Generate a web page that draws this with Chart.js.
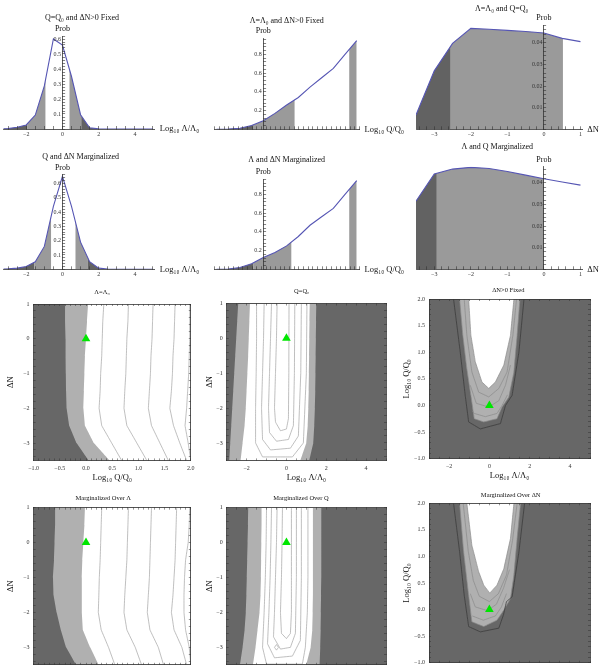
<!DOCTYPE html>
<html>
<head>
<meta charset="utf-8">
<title>Marginal probabilities</title>
<script src="https://cdn.jsdelivr.net/npm/chart.js@4.4.1/dist/chart.umd.min.js"></script>
<style>
  html, body { margin: 0; padding: 0; background: #fff; }
  body { position: relative; width: 599px; height: 668px; overflow: hidden; }
  canvas { position: absolute; }
</style>
</head>
<body>
<script>
// ---- 1-D probability curves (top two rows) ----
const lamGrid = [-3.5, -3, -2.5, -2, -1.5, -1, -0.5, 0, 0.5, 1, 1.5, 2, 2.5, 3, 3.5, 4, 4.5, 5];
const probLamFixed = [0, 0.003, 0.012, 0.027, 0.093, 0.287, 0.60, 0.56, 0.35, 0.095, 0.008, 0.001, 0, 0, 0, 0, 0, 0];
const probLamMarg = [0.001, 0.003, 0.008, 0.02, 0.053, 0.16, 0.44, 0.65, 0.44, 0.19, 0.053, 0.008, 0.002, 0.0005, 0, 0, 0, 0];
const qGrid = [-1, -0.75, -0.5, -0.25, 0, 0.25, 0.5, 0.75, 1, 1.25, 1.5, 1.75, 2];
const probQFixed = [0, 0.002, 0.011, 0.04, 0.092, 0.17, 0.26, 0.34, 0.45, 0.55, 0.65, 0.8, 0.946];
const probQMarg = [0, 0.004, 0.02, 0.06, 0.125, 0.18, 0.25, 0.35, 0.47, 0.56, 0.65, 0.8, 0.946];
const dnGrid = [-3.5, -3, -2.5, -2, -1.5, -1, -0.5, 0, 0.5, 1];
const probDnFixed = [0.0066, 0.027, 0.0397, 0.0466, 0.0462, 0.0457, 0.0452, 0.0445, 0.042, 0.0405];
const probDnMarg = [0.0315, 0.044, 0.0463, 0.0471, 0.0466, 0.0452, 0.0435, 0.0418, 0.0403, 0.0389];

// credible-interval shading under each curve
const lamFixedEdges = [-3.5, -1.93, -0.94, 0.39, 1.04, 1.8];
const lamMargEdges = [-3.5, -1.55, -0.63, 0.72, 1.4, 2.05];
const lamShades = ['dark', 'mid', null, 'mid', 'dark'];
const qFixedEdges = [-1.04, -0.22, 0.67, 1.84, 2.0];
const qMargEdges = [-1.04, -0.21, 0.6, 1.84, 2.0];
const qShades = ['dark', 'mid', null, 'mid'];
const dnFixedEdges = [-3.5, -2.55, 0.52];
const dnMargEdges = [-3.5, -2.93, 0.0];
const dnShades = ['dark', 'mid'];

// ---- 2-D contours (bottom two rows) ----
const dnRange = [-3.5, 1];
const qRange = [-1, 2];
const lamRange = [-3, 5];
const fiducial = [0, 0];
const dnLevels = [1, 0.5, 0, -0.5, -1, -1.5, -2, -2.5, -3, -3.5];

// Λ=Λ0 : Log10 Q/Q0 of each contour at the ΔN levels
const qDarkFixed = [-0.40, -0.40, -0.39, -0.39, -0.385, -0.38, -0.37, -0.32, -0.18, 0.05];
const qLightFixed = [0.04, 0.02, 0.0, -0.02, -0.03, -0.04, -0.05, -0.02, 0.15, 0.45];
const qLinesFixed = [
  [0.34, 0.32, 0.31, 0.30, 0.28, 0.27, 0.25, 0.30, 0.49, 0.68],
  [0.81, 0.80, 0.78, 0.77, 0.76, 0.74, 0.725, 0.78, 0.97, 1.16],
  [1.28, 1.27, 1.26, 1.24, 1.23, 1.21, 1.19, 1.25, 1.41, 1.57],
  [1.70, 1.69, 1.68, 1.66, 1.65, 1.63, 1.60, 1.67, 1.79, 1.92],
  [1.98, 1.98, 1.98, 1.97, 1.96, 1.94, 1.92, 1.89, 1.95, 2.0]
];
// marginalized over Λ
const qDarkMarg = [-0.59, -0.59, -0.60, -0.61, -0.63, -0.62, -0.56, -0.48, -0.38, -0.19];
const qLightMarg = [-0.02, -0.03, -0.05, -0.07, -0.08, -0.08, -0.08, -0.06, 0.08, 0.24];
const qLinesMarg = [
  [0.30, 0.29, 0.28, 0.27, 0.254, 0.245, 0.235, 0.29, 0.43, 0.55],
  [0.81, 0.80, 0.79, 0.78, 0.76, 0.74, 0.725, 0.78, 0.94, 1.06],
  [1.25, 1.24, 1.23, 1.22, 1.21, 1.19, 1.17, 1.22, 1.38, 1.48],
  [1.73, 1.72, 1.71, 1.70, 1.68, 1.66, 1.63, 1.68, 1.83, 1.92],
  [1.98, 1.97, 1.95, 1.90, 1.88, 1.87, 1.87, 1.90, 1.97, 2.0]
];

// Q=Q0 : Log10 Λ/Λ0 of the band edges at the ΔN levels
const lamDarkLeftFixed = [-2.42, -2.47, -2.52, -2.57, -2.62, -2.67, -2.72, -2.77, -2.82, -2.87];
const lamLightLeftFixed = [-1.83, -1.86, -1.89, -1.92, -1.96, -2.0, -2.04, -2.1, -2.2, -2.3];
const lamLightRightFixed = [1.17, 1.16, 1.15, 1.14, 1.13, 1.12, 1.1, 1.07, 1.0, 0.7];
const lamDarkRightFixed = [1.5, 1.49, 1.48, 1.47, 1.46, 1.45, 1.43, 1.40, 1.35, 1.15];
const lamLinesFixed = [
  [[-0.47, 1], [-0.5, 0], [-0.55, -1], [-0.6, -2], [-0.55, -2.4], [-0.3, -2.65], [0, -2.6], [0.1, -2.3], [0.12, -1], [0.13, 1]],
  [[-0.75, 1], [-0.8, 0], [-0.85, -1], [-0.9, -2], [-0.85, -2.7], [-0.5, -2.95], [0.1, -2.9], [0.35, -2.5], [0.4, -1], [0.42, 1]],
  [[-1.12, 1], [-1.15, 0], [-1.2, -1], [-1.25, -2], [-1.2, -2.9], [-0.8, -3.2], [0.2, -3.15], [0.6, -2.8], [0.72, -1], [0.75, 1]],
  [[-1.5, 1], [-1.5, 0], [-1.52, -1], [-1.55, -2], [-1.55, -3], [-1.2, -3.4], [0.3, -3.4], [0.85, -3.0], [1.0, -1], [1.03, 1]]
];
// marginalized over Q
const lamDarkLeftMarg = [-1.92, -1.93, -1.95, -1.97, -1.99, -2.01, -2.04, -2.1, -2.2, -2.33];
const lamLightLeftMarg = [-1.25, -1.25, -1.26, -1.27, -1.28, -1.3, -1.35, -1.45, -1.55, -1.68];
const lamLightRightMarg = [1.33, 1.33, 1.33, 1.33, 1.33, 1.33, 1.32, 1.3, 1.22, 1.0];
const lamDarkRightMarg = [1.75, 1.75, 1.75, 1.75, 1.75, 1.74, 1.73, 1.72, 1.70, 1.67];
const lamLinesMarg = [
  [[-0.2, 1], [-0.22, 0], [-0.25, -1], [-0.3, -2], [-0.25, -2.6], [0, -2.75], [0.2, -2.6], [0.25, -2], [0.25, -1], [0.25, 1]],
  [[-0.47, 1], [-0.5, 0], [-0.55, -1], [-0.6, -2], [-0.65, -2.7], [-0.3, -3.05], [0.2, -3.0], [0.45, -2.6], [0.5, -1], [0.5, 1]],
  [[-0.75, 1], [-0.78, 0], [-0.82, -1], [-0.88, -2], [-0.95, -2.9], [-0.6, -3.3], [0.3, -3.25], [0.7, -2.8], [0.75, -1], [0.75, 1]],
  [[-1.0, 1], [-1.02, 0], [-1.06, -1], [-1.12, -2], [-1.2, -3], [-1.0, -3.48], [0.8, -3.48], [0.95, -3.0], [1.05, -2], [1.08, -1], [1.08, 1]],
  [[-0.6, -3], [-0.5, -2.92], [-0.4, -3], [-0.5, -3.08], [-0.6, -3]]
];

// ΔN>0 fixed : (Log10 Λ/Λ0, Log10 Q/Q0) contours
const uOuterFixed = [[-1.78, 2], [-1.45, 1.01], [-1.2, 0.19], [-1.03, -0.31], [-0.45, -0.44], [0.55, -0.34], [0.8, 0.0], [1.13, 0.19], [1.47, 1.01], [1.72, 2]];
const uLightFixed = [[-1.48, 2], [-1.32, 1.32], [-1.12, 0.69], [-0.92, 0.19], [-0.75, -0.25], [-0.28, -0.31], [0.38, -0.25], [0.63, -0.03], [0.97, 0.16], [1.22, 0.63], [1.38, 1.32], [1.52, 2]];
const uWhiteFixed = [[-1.03, 2], [-0.92, 1.32], [-0.7, 0.82], [-0.37, 0.44], [-0.03, 0.32], [0.3, 0.44], [0.72, 0.76], [1.05, 1.32], [1.22, 2]];
const uLinesFixed = [
  [[-1.25, 2], [-1.12, 1.32], [-0.87, 0.63], [-0.53, 0.25], [-0.03, 0.16], [0.47, 0.32], [0.88, 0.63], [1.17, 1.32], [1.35, 2]],
  [[-0.95, 0.38], [-0.65, 0.04], [-0.03, -0.03], [0.47, 0.09], [0.8, 0.38], [1.05, 0.76]],
  [[-0.85, -0.1], [-0.75, -0.15], [-0.2, -0.21], [0.38, -0.15], [0.63, 0.0], [0.9, 0.2]]
];
// marginalized over ΔN
const uOuterMarg = [[-1.78, 2], [-1.48, 1.09], [-1.25, 0.27], [-1.03, -0.32], [-0.45, -0.42], [0.47, -0.35], [0.7, -0.1], [0.85, 0.15], [1.13, 0.24], [1.47, 1.09], [1.75, 2]];
const uLightMarg = [[-1.48, 2], [-1.28, 1.09], [-1.03, 0.27], [-0.87, -0.23], [-0.28, -0.32], [0.38, -0.2], [0.72, -0.01], [1.05, 0.21], [1.22, 0.65], [1.38, 1.34], [1.55, 2]];
const uWhiteMarg = [[-1.12, 2], [-0.87, 1.21], [-0.53, 0.71], [-0.28, 0.46], [0.02, 0.31], [0.38, 0.46], [0.72, 0.77], [1.05, 1.34], [1.22, 2]];
const uLinesMarg = [
  [[-1.3, 2], [-1.05, 1.1], [-0.8, 0.55], [-0.5, 0.25], [0.0, 0.15], [0.45, 0.3], [0.85, 0.65], [1.15, 1.3], [1.38, 2]],
  [[-0.95, 0.3], [-0.7, 0.05], [-0.1, -0.02], [0.35, 0.1], [0.7, 0.4], [1.0, 0.75]],
  [[-0.85, -0.12], [-0.3, -0.2], [0.3, -0.12], [0.6, 0.05], [0.85, 0.3]]
];

// ---- style ----
const FONT = "'Liberation Serif', 'DejaVu Serif', serif";
const INK = '#333333';
const CURVE = '#5656b4';
const SHADE = { dark: '#626262', mid: '#9a9a9a' };
const C_DARK = '#676767', C_LIGHT = '#b0b0b0', C_LINE = '#a3a3a3', C_INNER = '#8a8a8a', C_OUTER = '#3c3c3c';
const GREEN = '#00e600';

Chart.defaults.font.family = FONT;
Chart.defaults.color = INK;
Chart.defaults.animation = false;
Chart.defaults.events = [];
Chart.defaults.plugins.legend.display = false;
Chart.defaults.plugins.tooltip.enabled = false;

// fills the area under the curve, band by band
const bandFill = {
  id: 'bandFill',
  beforeDatasetsDraw(chart, args, o) {
    if (!o.edges) return;
    const ctx = chart.ctx, a = chart.chartArea, xs = chart.scales.x;
    const pts = chart.getDatasetMeta(0).data;
    const base = chart.scales.y.getPixelForValue(0);
    o.shades.forEach((shade, i) => {
      if (!shade) return;
      const left = Math.max(a.left, xs.getPixelForValue(o.edges[i]));
      const right = Math.min(a.right, xs.getPixelForValue(o.edges[i + 1]));
      if (right <= left) return;
      ctx.save();
      ctx.beginPath();
      ctx.rect(left, a.top, right - left, a.bottom - a.top);
      ctx.clip();
      ctx.beginPath();
      ctx.moveTo(pts[0].x, base);
      pts.forEach(p => ctx.lineTo(p.x, p.y));
      ctx.lineTo(pts[pts.length - 1].x, base);
      ctx.closePath();
      ctx.fillStyle = SHADE[shade];
      ctx.fill();
      ctx.restore();
    });
  }
};

const frameFill = {
  id: 'frameFill',
  beforeDatasetsDraw(chart, args, o) {
    if (!o.color) return;
    const a = chart.chartArea;
    chart.ctx.save();
    chart.ctx.fillStyle = o.color;
    chart.ctx.fillRect(a.left, a.top, a.right - a.left, a.bottom - a.top);
    chart.ctx.restore();
  }
};

const annot = {
  id: 'annot',
  afterDraw(chart, args, o) {
    const ctx = chart.ctx, a = chart.chartArea;
    ctx.save();
    ctx.fillStyle = '#111';
    ctx.textBaseline = 'middle';
    if (o.title) {
      ctx.font = o.titleSize + 'px ' + FONT;
      ctx.textAlign = 'center';
      ctx.fillText(o.title, o.titleAt[0], o.titleAt[1]);
    }
    if (o.prob) {
      ctx.font = '8px ' + FONT;
      ctx.textAlign = 'center';
      ctx.fillText('Prob', chart.scales.x.getPixelForValue(0), a.top - 7);
    }
    if (o.xLabel) {
      ctx.font = '8.5px ' + FONT;
      ctx.textAlign = 'left';
      ctx.fillText(o.xLabel, a.right + 5, a.bottom);
    }
    ctx.restore();
  }
};

Chart.register(bandFill, frameFill, annot);

function makeCanvas(box) {
  const c = document.createElement('canvas');
  c.width = box.w;
  c.height = box.h;
  c.style.left = box.x + 'px';
  c.style.top = box.y + 'px';
  document.body.appendChild(c);
  return c;
}

function labeler(every, digits, showZero, suffix) {
  return function (v) {
    const k = v / every;
    if (Math.abs(k - Math.round(k)) > 1e-6) return '';
    if (!showZero && Math.abs(v) < 1e-9) return '';
    return v.toFixed(digits).replace('-', '\u2212') + (suffix || '');
  };
}

function fitTo(size) {
  return function (s) {
    if (s.isHorizontal()) s.height = size; else s.width = size;
    s.paddingLeft = s.paddingRight = s.paddingTop = s.paddingBottom = 0;
  };
}

const xy = (xs, ys) => xs.map((x, i) => ({ x: x, y: ys[i] }));
const pairs = list => list.map(p => ({ x: p[0], y: p[1] }));
const at = xs => xy(xs, dnLevels);

// ticks, tick marks and axis lines all go on top of the filled areas
const onTop = { z: 1 };

function profile(o) {
  const a = o.area;
  const grid = { drawOnChartArea: false, tickLength: -3, tickColor: INK, tickWidth: 0.6, z: 1 };
  return new Chart(makeCanvas(o.box), {
    type: 'line',
    data: { datasets: [{ data: xy(o.xs, o.ys), borderColor: CURVE, borderWidth: 1.1, pointRadius: 0, fill: false }] },
    options: {
      responsive: false,
      layout: { padding: { left: a.l, right: o.box.w - a.r, top: a.t, bottom: o.box.h - a.b - 14 } },
      scales: {
        x: {
          type: 'linear', position: 'bottom', min: o.xRange[0], max: o.xRange[1],
          ticks: { stepSize: o.xStep, includeBounds: false, autoSkip: false, maxRotation: 0, minRotation: 0, padding: 5,
            font: { size: 6 }, z: 1, callback: labeler(o.xEvery, o.xDigits, true) },
          grid: grid,
          border: { color: INK, width: 0.8, z: 1 },
          afterFit: fitTo(14)
        },
        y: {
          type: 'linear', position: { x: 0 }, min: 0, max: o.yMax,
          ticks: { stepSize: o.yStep, includeBounds: false, autoSkip: false, font: { size: 6 }, z: 1,
            callback: labeler(o.yEvery, o.yDigits, false, ' ') },
          grid: grid,
          border: { color: INK, width: 0.8, z: 1 },
          afterFit: fitTo(0)
        }
      },
      plugins: {
        bandFill: { edges: o.edges, shades: o.shades },
        annot: { title: o.title, titleAt: o.titleAt, titleSize: 8, prob: true, xLabel: o.xLabel }
      }
    }
  });
}

function contour(o) {
  const a = o.area;
  const grid = { drawOnChartArea: false, tickLength: -2, tickColor: INK, tickWidth: 0.5, z: 1 };
  const frame = (pos, r, step) => ({
    type: 'linear', position: pos, min: r[0], max: r[1],
    ticks: { display: false, stepSize: step, includeBounds: false, autoSkip: false },
    grid: grid,
    border: { color: INK, width: 0.8, z: 1 },
    afterFit: fitTo(0)
  });
  const main = (pos, r, step, every, digits, title, size) => ({
    type: 'linear', position: pos, min: r[0], max: r[1],
    ticks: { stepSize: step, includeBounds: false, autoSkip: false, maxRotation: 0, minRotation: 0, padding: 6,
      font: { size: 6 }, z: 1, callback: labeler(every, digits, true) },
    grid: grid,
    border: { color: INK, width: 0.8, z: 1 },
    title: { display: true, text: title, font: { size: 8.5 }, padding: { top: 0, bottom: 2 }, color: '#111' },
    afterFit: fitTo(size)
  });
  return new Chart(makeCanvas(o.box), {
    type: 'line',
    data: { datasets: o.datasets },
    options: {
      responsive: false,
      layout: { padding: { left: a.l - o.yw, right: o.box.w - a.r, top: a.t, bottom: o.box.h - a.b - 24 } },
      scales: {
        x: main('bottom', o.xRange, o.xStep, o.xEvery, o.xDigits, o.xTitle, 24),
        y: main('left', o.yRange, o.yStep, o.yEvery, o.yDigits, o.yTitle, o.yw),
        x2: frame('top', o.xRange, o.xStep),
        y2: frame('right', o.yRange, o.yStep)
      },
      plugins: {
        frameFill: { color: C_DARK },
        annot: { title: o.title, titleAt: o.titleAt, titleSize: 6.5 }
      }
    }
  });
}

// a tiny tension keeps Chart.js off its x-sorted fast path, so near-vertical contours draw cleanly
function area(points, color, order) {
  return { data: points, fill: 'shape', backgroundColor: color, borderColor: 'rgba(0,0,0,0)', borderWidth: 0,
    pointRadius: 0, tension: 0.0001, order: order };
}
function stroke(points, color, width, order) {
  return { data: points, fill: false, borderColor: color, borderWidth: width, pointRadius: 0, tension: 0.0001, order: order };
}
function marker() {
  return { data: [{ x: fiducial[0], y: fiducial[1] }], showLine: false, pointStyle: 'triangle', pointRadius: 5,
    backgroundColor: GREEN, borderColor: GREEN, borderWidth: 0, order: 0 };
}

function qSliceSets(dark, light, lines) {
  const right = [{ x: qRange[1], y: dnRange[0] }, { x: qRange[1], y: dnRange[1] }];
  return [area(at(dark).concat(right), C_LIGHT, 5), area(at(light).concat(right), '#ffffff', 4)]
    .concat(lines.map(l => stroke(at(l), C_LINE, 0.7, 3)), [marker()]);
}
function lamSliceSets(darkL, lightL, lightR, darkR, lines) {
  return [area(at(darkL).concat(at(darkR).reverse()), C_LIGHT, 5), area(at(lightL).concat(at(lightR).reverse()), '#ffffff', 4)]
    .concat(lines.map(l => stroke(pairs(l), C_LINE, 0.7, 3)), [marker()]);
}
function uSets(outer, light, white, lines) {
  return [area(pairs(light), C_LIGHT, 5), area(pairs(white), '#ffffff', 4),
    stroke(pairs(light), C_INNER, 0.7, 3), stroke(pairs(white), C_INNER, 0.7, 3)]
    .concat(lines.map(l => stroke(pairs(l), C_INNER, 0.7, 3)), [stroke(pairs(outer), C_OUTER, 0.8, 2), marker()]);
}

const LAM = 'Log\u2081\u2080 \u039B/\u039B\u2080';
const QQ = 'Log\u2081\u2080 Q/Q\u2080';
const DN = '\u0394N';

// top row
profile({ box: { x: 0, y: 0, w: 205, h: 150 }, area: { l: 3.6, r: 154.8, t: 36, b: 129 },
  xs: lamGrid, ys: probLamFixed, xRange: [-3.25, 5.1], xStep: 0.5, xEvery: 2, xDigits: 0,
  yMax: 0.62, yStep: 0.02, yEvery: 0.1, yDigits: 1, edges: lamFixedEdges, shades: lamShades,
  title: 'Q=Q\u2080 and \u0394N>0 Fixed', titleAt: [82, 18.3], xLabel: LAM });
profile({ box: { x: 200, y: 0, w: 215, h: 150 }, area: { l: 14.7, r: 159.5, t: 38.4, b: 129.3 },
  xs: qGrid, ys: probQFixed, xRange: [-1.04, 2.06], xStep: 0.1, xEvery: 0.5, xDigits: 1,
  yMax: 0.97, yStep: 0.04, yEvery: 0.2, yDigits: 1, edges: qFixedEdges, shades: qShades,
  title: '\u039B=\u039B\u2080 and \u0394N>0 Fixed', titleAt: [86.7, 20.7], xLabel: QQ });
profile({ box: { x: 400, y: 0, w: 199, h: 150 }, area: { l: 16, r: 182.3, t: 25.4, b: 129.3 },
  xs: dnGrid, ys: probDnFixed, xRange: [-3.5, 1.05], xStep: 0.2, xEvery: 1, xDigits: 0,
  yMax: 0.048, yStep: 0.002, yEvery: 0.01, yDigits: 2, edges: dnFixedEdges, shades: dnShades,
  title: '\u039B=\u039B\u2080 and Q=Q\u2080', titleAt: [101.7, 9.3], xLabel: DN });

// second row
profile({ box: { x: 0, y: 140, w: 205, h: 150 }, area: { l: 3.6, r: 154.8, t: 34.9, b: 129.3 },
  xs: lamGrid, ys: probLamMarg, xRange: [-3.25, 5.1], xStep: 0.5, xEvery: 2, xDigits: 0,
  yMax: 0.66, yStep: 0.02, yEvery: 0.1, yDigits: 1, edges: lamMargEdges, shades: lamShades,
  title: 'Q and \u0394N Marginalized', titleAt: [80.7, 17.3], xLabel: LAM });
profile({ box: { x: 200, y: 140, w: 215, h: 150 }, area: { l: 14.7, r: 159.5, t: 39.3, b: 129.3 },
  xs: qGrid, ys: probQMarg, xRange: [-1.04, 2.06], xStep: 0.1, xEvery: 0.5, xDigits: 1,
  yMax: 0.96, yStep: 0.04, yEvery: 0.2, yDigits: 1, edges: qMargEdges, shades: qShades,
  title: '\u039B and \u0394N Marginalized', titleAt: [86.7, 20], xLabel: QQ });
profile({ box: { x: 400, y: 140, w: 199, h: 150 }, area: { l: 16, r: 182.3, t: 26.7, b: 129.3 },
  xs: dnGrid, ys: probDnMarg, xRange: [-3.5, 1.05], xStep: 0.2, xEvery: 1, xDigits: 0,
  yMax: 0.0474, yStep: 0.002, yEvery: 0.01, yDigits: 2, edges: dnMargEdges, shades: dnShades,
  title: '\u039B and Q Marginalized', titleAt: [97.3, 7.3], xLabel: DN });

// third row
contour({ box: { x: 0, y: 280, w: 200, h: 205 }, area: { l: 33.6, r: 190.8, t: 24, b: 180.4 }, yw: 28,
  xRange: qRange, xStep: 0.1, xEvery: 0.5, xDigits: 1, xTitle: QQ,
  yRange: dnRange, yStep: 0.2, yEvery: 1, yDigits: 0, yTitle: DN,
  title: '\u039B=\u039B\u2080', titleAt: [102, 12.3],
  datasets: qSliceSets(qDarkFixed, qLightFixed, qLinesFixed) });
contour({ box: { x: 200, y: 280, w: 200, h: 205 }, area: { l: 26.7, r: 186, t: 23.5, b: 180.4 }, yw: 22,
  xRange: lamRange, xStep: 0.5, xEvery: 2, xDigits: 0, xTitle: LAM,
  yRange: dnRange, yStep: 0.2, yEvery: 1, yDigits: 0, yTitle: DN,
  title: 'Q=Q\u2080', titleAt: [101.7, 11.7],
  datasets: lamSliceSets(lamDarkLeftFixed, lamLightLeftFixed, lamLightRightFixed, lamDarkRightFixed, lamLinesFixed) });
contour({ box: { x: 400, y: 280, w: 199, h: 205 }, area: { l: 29, r: 190, t: 19, b: 178.7 }, yw: 27,
  xRange: lamRange, xStep: 0.5, xEvery: 2, xDigits: 0, xTitle: LAM,
  yRange: qRange, yStep: 0.1, yEvery: 0.5, yDigits: 1, yTitle: QQ,
  title: '\u0394N>0 Fixed', titleAt: [108.3, 10],
  datasets: uSets(uOuterFixed, uLightFixed, uWhiteFixed, uLinesFixed) });

// bottom row
contour({ box: { x: 0, y: 485, w: 200, h: 205 }, area: { l: 33.6, r: 190.8, t: 22.7, b: 179.8 }, yw: 28,
  xRange: qRange, xStep: 0.1, xEvery: 0.5, xDigits: 1, xTitle: QQ,
  yRange: dnRange, yStep: 0.2, yEvery: 1, yDigits: 0, yTitle: DN,
  title: 'Marginalized Over \u039B', titleAt: [103.3, 13.3],
  datasets: qSliceSets(qDarkMarg, qLightMarg, qLinesMarg) });
contour({ box: { x: 200, y: 485, w: 200, h: 205 }, area: { l: 26.7, r: 186, t: 22.7, b: 179.8 }, yw: 22,
  xRange: lamRange, xStep: 0.5, xEvery: 2, xDigits: 0, xTitle: LAM,
  yRange: dnRange, yStep: 0.2, yEvery: 1, yDigits: 0, yTitle: DN,
  title: 'Marginalized Over Q', titleAt: [101, 13.3],
  datasets: lamSliceSets(lamDarkLeftMarg, lamLightLeftMarg, lamLightRightMarg, lamDarkRightMarg, lamLinesMarg) });
contour({ box: { x: 400, y: 485, w: 199, h: 205 }, area: { l: 29, r: 190, t: 18.3, b: 177.7 }, yw: 27,
  xRange: lamRange, xStep: 0.5, xEvery: 2, xDigits: 0, xTitle: LAM,
  yRange: qRange, yStep: 0.1, yEvery: 0.5, yDigits: 1, yTitle: QQ,
  title: 'Marginalized Over \u0394N', titleAt: [110.7, 10],
  datasets: uSets(uOuterMarg, uLightMarg, uWhiteMarg, uLinesMarg) });
</script>
</body>
</html>
